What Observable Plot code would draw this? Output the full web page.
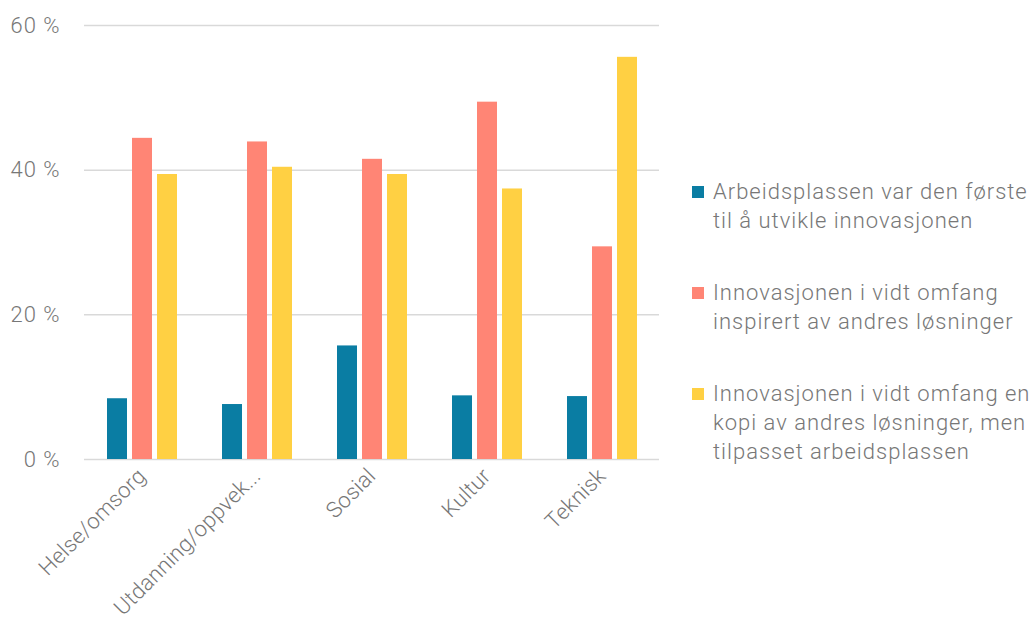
<!DOCTYPE html>
<html><head><meta charset="utf-8">
<script src="https://cdn.jsdelivr.net/npm/d3@7"></script>
<script src="https://cdn.jsdelivr.net/npm/@observablehq/plot@0.6"></script>
<style>
body{margin:0;background:#fff;font-family:Roboto,sans-serif;}
#wrap{position:relative;width:1032px;height:626px;overflow:hidden;}
#chart{position:absolute;left:0;top:0;}
#chart g[aria-label="fx-axis tick label"]{letter-spacing:0.2px;}
#legend{position:absolute;left:692px;top:177px;font-family:Roboto,sans-serif;font-weight:300;font-size:22px;letter-spacing:1px;line-height:29px;color:#777;}
.item{display:flex;align-items:flex-start;margin-bottom:43px;}
.sw{width:12px;height:12px;margin-top:9px;margin-right:9px;flex:none;}
.lab{white-space:pre-line;}
</style></head><body>
<div id="wrap"><div id="chart"></div><div id="legend"></div></div>
<script>
const categories = ["Helse/omsorg", "Utdanning/oppvek...", "Sosial", "Kultur", "Teknisk"];
const seriesNames = [
  "Arbeidsplassen var den første til å utvikle innovasjonen",
  "Innovasjonen i vidt omfang inspirert av andres løsninger",
  "Innovasjonen i vidt omfang en kopi av andres løsninger, men tilpasset arbeidsplassen"
];
const legendLabels = [
  "Arbeidsplassen var den første\ntil å utvikle innovasjonen",
  "Innovasjonen i vidt omfang\ninspirert av andres løsninger",
  "Innovasjonen i vidt omfang en\nkopi av andres løsninger, men\ntilpasset arbeidsplassen"
];
const colors = ["#0a7da3", "#ff8575", "#ffd043"];
const firstValues = [8.4, 7.6, 15.7, 8.8, 8.7];
const inspiredValues = [44.4, 43.9, 41.5, 49.4, 29.4];
const copyValues = [39.4, 40.4, 39.4, 37.4, 55.6];
const yTicks = [0, 20, 40, 60];

const seriesValues = [firstValues, inspiredValues, copyValues];
const data = [];
categories.forEach((c, i) => {
  seriesNames.forEach((s, j) => data.push({category: c, series: s, value: seriesValues[j][i]}));
});

const chart = Plot.plot({
  width: 670,
  height: 626,
  marginLeft: 83,
  marginRight: 10,
  marginTop: 25,
  marginBottom: 167,
  style: {fontFamily: "Roboto, sans-serif", fontWeight: 300, fontSize: "22px", letterSpacing: "1px", color: "#777", background: "transparent"},
  fx: {domain: categories, padding: 0, label: null},
  x: {domain: seriesNames, paddingInner: 0.22, paddingOuter: 0.87, axis: null},
  y: {domain: [0, 60], label: null},
  color: {domain: seriesNames, range: colors},
  marks: [
    Plot.ruleY(yTicks, {stroke: "#d9d9d9", strokeWidth: 1.5}),
    Plot.barY(data, {fx: "category", x: "series", y: "value", fill: "series"}),
    Plot.axisY(yTicks, {tickSize: 0, tickPadding: 24, tickFormat: d => d + " %", fontSize: 22, fill: "#777", label: null}),
    Plot.axisFx({anchor: "bottom", tickSize: 0, tickRotate: -45, tickPadding: 13, fontSize: 22, fill: "#777", label: null})
  ]
});
document.getElementById("chart").appendChild(chart);

const legend = document.getElementById("legend");
legendLabels.forEach((l, i) => {
  const item = document.createElement("div");
  item.className = "item";
  const sw = document.createElement("div");
  sw.className = "sw";
  sw.style.background = colors[i];
  const lab = document.createElement("div");
  lab.className = "lab";
  lab.textContent = l;
  item.appendChild(sw);
  item.appendChild(lab);
  legend.appendChild(item);
});
</script>
</body></html>
